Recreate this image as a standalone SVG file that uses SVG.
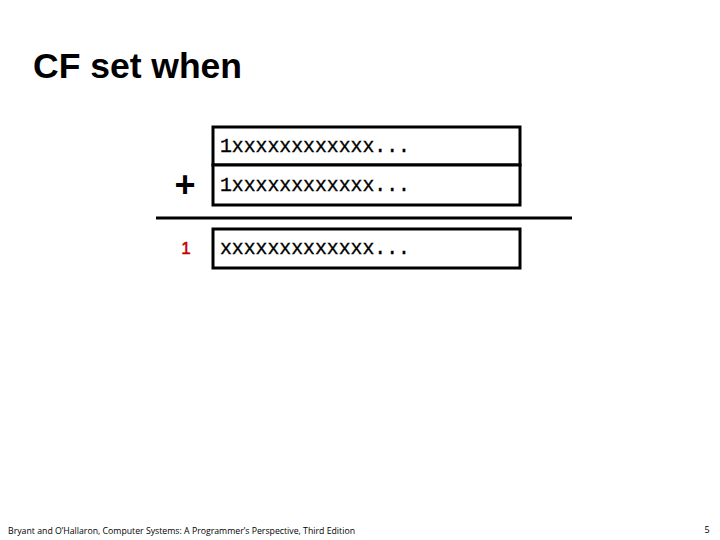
<svg xmlns="http://www.w3.org/2000/svg" width="720" height="540" viewBox="0 0 720 540">
<style>
.box{fill:#fff;stroke:#000;stroke-width:3}
.mono{font-family:"Liberation Mono","DejaVu Sans Mono",monospace;font-size:19.8px;fill:#000;stroke:#000;stroke-width:0.35}
.foot{font-family:"Open Sans","Liberation Sans",sans-serif;font-size:9px;fill:#000}
</style>
<rect width="720" height="540" fill="#fff"/>
<text x="33" y="78" font-family="Liberation Sans,Arial,sans-serif" font-weight="bold" font-size="35.5" textLength="209">CF set when</text>
<g id="row1"><rect class="box" x="213" y="127" width="307" height="38"/><text class="mono" x="220" y="152">1xxxxxxxxxxxx...</text></g>
<g id="row2"><rect class="box" x="213" y="165" width="307" height="40"/><text class="mono" x="220" y="191">1xxxxxxxxxxxx...</text></g>
<g id="plus"><text x="185" y="197" text-anchor="middle" font-family="Liberation Sans,Arial,sans-serif" font-weight="bold" font-size="36">+</text></g>
<g id="connectors"><line x1="156" y1="218" x2="572" y2="218" stroke="#000" stroke-width="3"/></g>
<g id="result"><rect class="box" x="213" y="229" width="307" height="39"/><text class="mono" x="220" y="254">xxxxxxxxxxxxx...</text></g>
<g id="carry"><text x="186" y="254" text-anchor="middle" font-family="Liberation Sans,Arial,sans-serif" font-size="17" fill="#c00000" stroke="#c00000" stroke-width="0.5">1</text></g>
<text class="foot" x="8" y="534" textLength="347" lengthAdjust="spacingAndGlyphs">Bryant and O’Hallaron, Computer Systems: A Programmer’s Perspective, Third Edition</text>
<text class="foot" x="707" y="533" text-anchor="middle">5</text>
</svg>
